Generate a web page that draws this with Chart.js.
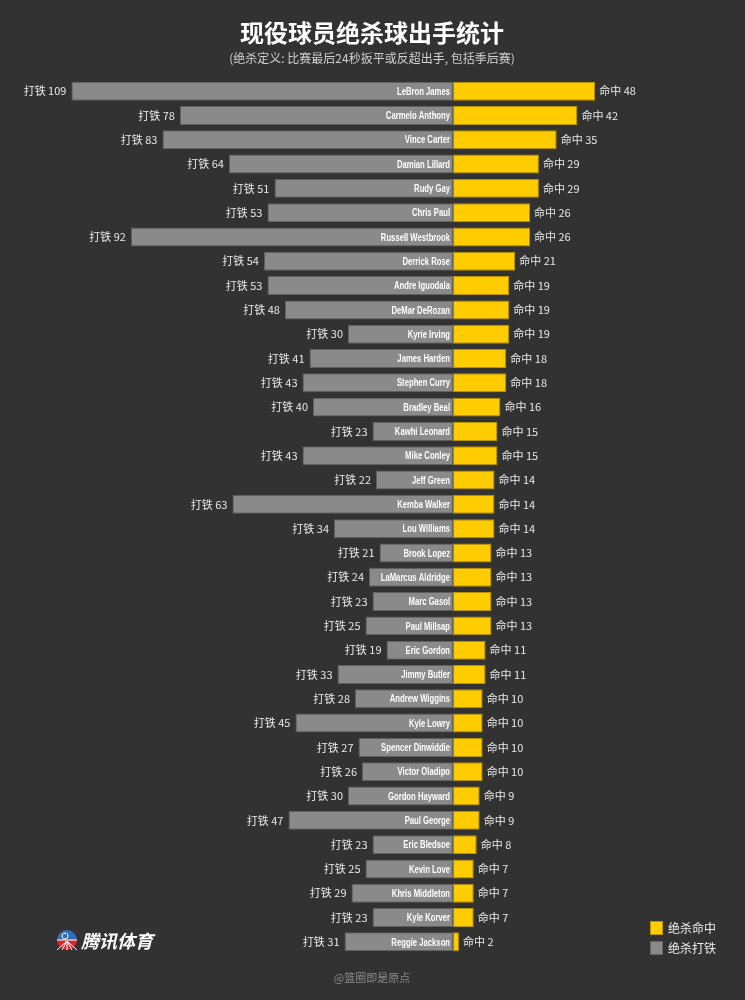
<!DOCTYPE html>
<html>
<head>
<meta charset="utf-8">
<script src="https://cdn.jsdelivr.net/npm/chart.js@4/dist/chart.umd.min.js"></script>
<style>
  html, body { margin: 0; padding: 0; background: #323232; }
  #wrap { width: 745px; height: 1000px; position: relative; }
</style>
</head>
<body>
<div id="wrap"><canvas id="myChart"></canvas></div>
<script>
// player names, top to bottom
const players = ["LeBron James", "Carmelo Anthony", "Vince Carter", "Damian Lillard", "Rudy Gay",
  "Chris Paul", "Russell Westbrook", "Derrick Rose", "Andre Iguodala", "DeMar DeRozan",
  "Kyrie Irving", "James Harden", "Stephen Curry", "Bradley Beal", "Kawhi Leonard",
  "Mike Conley", "Jeff Green", "Kemba Walker", "Lou Williams", "Brook Lopez",
  "LaMarcus Aldridge", "Marc Gasol", "Paul Millsap", "Eric Gordon", "Jimmy Butler",
  "Andrew Wiggins", "Kyle Lowry", "Spencer Dinwiddie", "Victor Oladipo", "Gordon Hayward",
  "Paul George", "Eric Bledsoe", "Kevin Love", "Khris Middleton", "Kyle Korver", "Reggie Jackson"];

// 绝杀打铁 (misses)
const misses = [109, 78, 83, 64, 51, 53, 92, 54, 53, 48, 30, 41, 43, 40, 23, 43, 22, 63, 34, 21,
  24, 23, 25, 19, 33, 28, 45, 27, 26, 30, 47, 23, 25, 29, 23, 31];

// 绝杀命中 (makes)
const makes = [48, 42, 35, 29, 29, 26, 26, 21, 19, 19, 19, 18, 18, 16, 15, 15, 14, 14, 14, 13,
  13, 13, 13, 11, 11, 10, 10, 10, 10, 9, 9, 8, 7, 7, 7, 2];

const missLabel = "打铁";
const makeLabel = "命中";

const BG = "#323232";
const CJK = "'Noto Sans CJK SC', sans-serif";
const LATIN = "'Liberation Sans', Arial, sans-serif";

// squeezed text, the original uses a narrow bold face
function narrowText(c, text, x, y, sx) {
  c.save();
  c.translate(x, y);
  c.scale(sx, 1);
  c.fillText(text, 0, 0);
  c.restore();
}

// draws titles, names, value labels, legend, logo
const decorations = {
  id: "decorations",
  beforeDraw(chart) {
    const c = chart.ctx;
    c.save();
    c.fillStyle = BG;
    c.fillRect(0, 0, chart.width, chart.height);
    c.restore();
  },
  afterDatasetsDraw(chart) {
    const c = chart.ctx;
    const missMeta = chart.getDatasetMeta(0);
    const makeMeta = chart.getDatasetMeta(1);
    const zero = chart.scales.xR.getPixelForValue(0);
    c.save();
    c.textBaseline = "middle";
    players.forEach((name, i) => {
      const g = missMeta.data[i];
      const y = makeMeta.data[i];
      // name inside gray bar
      c.font = "bold 11.5px " + LATIN;
      c.fillStyle = "#ffffff";
      c.textAlign = "right";
      narrowText(c, name, zero - 3, g.y + 0.5, 0.67);
      // miss label
      c.font = "11px " + CJK;
      c.fillStyle = "#e8e8e8";
      c.textAlign = "right";
      c.fillText(missLabel + " " + misses[i], g.x - 5, g.y);
      // make label
      c.textAlign = "left";
      c.fillText(makeLabel + " " + makes[i], y.x + 4, y.y);
    });

    // title + subtitle
    c.textAlign = "center";
    c.fillStyle = "#ffffff";
    c.font = "bold 24px " + CJK;
    c.fillText("现役球员绝杀球出手统计", 372, 33);
    c.fillStyle = "#d0d0d0";
    c.font = "12px " + CJK;
    c.fillText("(绝杀定义: 比赛最后24秒扳平或反超出手, 包括季后赛)", 372, 58);

    // watermark
    c.fillStyle = "#8a8a8a";
    c.font = "11px " + CJK;
    c.fillText("@篮圈即是原点", 372, 978);

    // legend
    c.textAlign = "left";
    c.font = "12px " + CJK;
    const items = [["绝杀命中", "#ffcc00", "#b89300"], ["绝杀打铁", "#8a8a8a", "#666666"]];
    items.forEach((it, k) => {
      const ty = 921 + k * 20;
      c.fillStyle = it[1];
      c.fillRect(650, ty, 13, 14);
      c.strokeStyle = it[2];
      c.lineWidth = 1;
      c.strokeRect(650.5, ty + 0.5, 12, 13);
      c.fillStyle = "#eeeeee";
      c.fillText(it[0], 668, ty + 7);
    });

    // logo
    const lx = 67, ly = 940, r = 10;
    c.beginPath(); c.arc(lx, ly, r, Math.PI, 2 * Math.PI); c.closePath();
    c.fillStyle = "#2f6fc0"; c.fill();
    c.beginPath(); c.arc(lx, ly, r, 0, Math.PI); c.closePath();
    c.fillStyle = "#d9262c"; c.fill();
    c.strokeStyle = "#ffffff"; c.lineWidth = 1;
    c.beginPath(); c.moveTo(lx - r, ly); c.lineTo(lx + r, ly); c.stroke();
    for (let k = -2; k <= 2; k++) {
      c.beginPath(); c.moveTo(lx, ly + 1); c.lineTo(lx + k * 5, ly + r); c.stroke();
    }
    c.beginPath(); c.arc(lx - 2, ly - 4, 3, 0, 2 * Math.PI); c.stroke();
    c.fillStyle = "#ffffff";
    c.font = "italic bold 18px " + CJK;
    c.fillText("腾讯体育", 81, ly + 1);
    c.restore();
  }
};

const ctx = document.getElementById("myChart").getContext("2d");
new Chart(ctx, {
  type: "bar",
  data: {
    labels: players,
    datasets: [{
      label: "绝杀打铁",
      data: misses,
      xAxisID: "xL",
      backgroundColor: "#8a8a8a",
      borderColor: "#5e5e5e",
      borderWidth: 1,
      borderSkipped: false
    }, {
      label: "绝杀命中",
      data: makes,
      xAxisID: "xR",
      backgroundColor: "#ffcc00",
      borderColor: "#b89300",
      borderWidth: 1,
      borderSkipped: false
    }]
  },
  options: {
    indexAxis: "y",
    responsive: true,
    maintainAspectRatio: false,
    animation: false,
    grouped: false,
    barPercentage: 0.78,
    categoryPercentage: 1,
    layout: { padding: { top: 79, bottom: 46, left: 0, right: 0 } },
    plugins: { legend: { display: false }, tooltip: { enabled: false } },
    scales: {
      y: { display: false },
      xL: { type: "linear", display: false, reverse: true, min: -83.4, max: 129.4 },
      xR: { type: "linear", display: false, min: -153, max: 98.6 }
    }
  },
  plugins: [decorations]
});
</script>
</body>
</html>
